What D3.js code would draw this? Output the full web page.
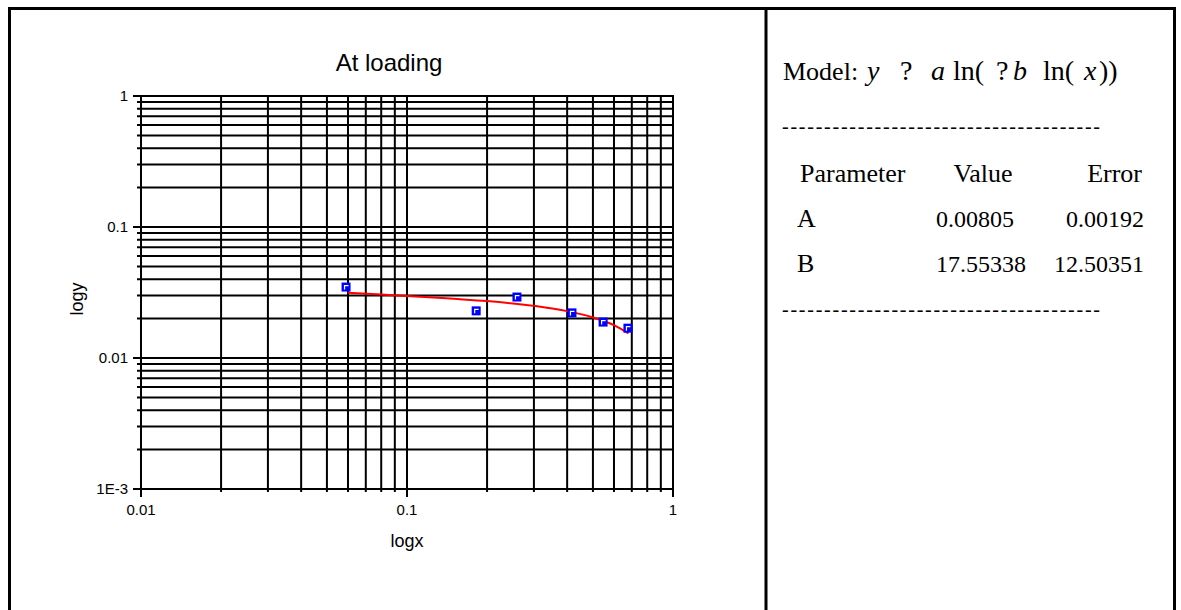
<!DOCTYPE html>
<html><head><meta charset="utf-8">
<script src="https://cdn.jsdelivr.net/npm/d3@7"></script>
<style>html,body{margin:0;padding:0;background:#fff;}svg{display:block;}</style>
</head><body>
<svg id="c" width="1181" height="610"></svg>
<script>
// ---- data ----
const xData = [0.059, 0.182, 0.259, 0.417, 0.546, 0.677];
const yData = [0.0348, 0.0229, 0.0292, 0.0221, 0.0188, 0.0169];
const fitX = [0.06, 0.08, 0.1, 0.15, 0.2, 0.3, 0.4, 0.5, 0.6, 0.68];
const fitY = [0.0315, 0.0305, 0.0298, 0.0283, 0.0272, 0.0250, 0.0228, 0.0204, 0.0178, 0.0154];
const xTickValues = [0.01, 0.1, 1];
const xTickLabels = ["0.01", "0.1", "1"];
const yTickValues = [0.001, 0.01, 0.1, 1];
const yTickLabels = ["1E-3", "0.01", "0.1", "1"];
const title = "At loading";
const xTitle = "logx";
const yTitle = "logy";
const tableHeader = ["Parameter", "Value", "Error"];
const paramNames = ["A", "B"];
const paramValues = ["0.00805", "17.55338"];
const paramErrors = ["0.00192", "12.50351"];

const svg = d3.select("#c");
const L = 141, R = 673, T = 96, B = 489;
const x = d3.scaleLog().domain([0.01, 1]).range([L, R]);
const y = d3.scaleLog().domain([0.001, 1]).range([B, T]);
const sans = "Liberation Sans, Arial, sans-serif";
const serif = "Liberation Serif, Times New Roman, serif";

// frame
svg.append("path").attr("d", "M9.5,620 V8.5 H1174.5 V620").attr("fill", "none").attr("stroke", "#000").attr("stroke-width", 3);
svg.append("line").attr("x1", 766).attr("x2", 766).attr("y1", 8).attr("y2", 620).attr("stroke", "#000").attr("stroke-width", 3);

const g = svg.append("g");
const isMajor = (arr, d) => arr.some(v => Math.abs(v - d) / d < 1e-6);
// grid
g.selectAll(".vg").data(x.ticks()).enter().append("line")
  .attr("x1", d => x(d)).attr("x2", d => x(d))
  .attr("y1", T).attr("y2", d => isMajor(xTickValues, d) ? B + 8 : B + 3)
  .attr("stroke", "#000").attr("stroke-width", 2);
g.selectAll(".hg").data(y.ticks()).enter().append("line")
  .attr("y1", d => y(d)).attr("y2", d => y(d))
  .attr("x1", d => isMajor(yTickValues, d) ? L - 8 : L - 4).attr("x2", R + 1)
  .attr("stroke", "#000").attr("stroke-width", 2);

// tick labels
g.selectAll(".xl").data(xTickValues).enter().append("text")
  .attr("x", d => x(d)).attr("y", 515).attr("text-anchor", "middle")
  .attr("font-family", sans).attr("font-size", 15)
  .text((d, i) => xTickLabels[i]);
g.selectAll(".yl").data(yTickValues).enter().append("text")
  .attr("x", 128).attr("y", d => y(d) + 5).attr("text-anchor", "end")
  .attr("font-family", sans).attr("font-size", 15)
  .text((d, i) => yTickLabels[i]);

// titles
svg.append("text").attr("x", 389).attr("y", 71).attr("text-anchor", "middle")
  .attr("font-family", sans).attr("font-size", 24).text(title);
svg.append("text").attr("x", 407).attr("y", 547).attr("text-anchor", "middle")
  .attr("font-family", sans).attr("font-size", 18).text(xTitle);
svg.append("text").attr("transform", "translate(83,299) rotate(-90)").attr("text-anchor", "middle")
  .attr("font-family", sans).attr("font-size", 18).text(yTitle);

// fit line
const line = d3.line().x(d => x(d[0])).y(d => y(d[1])).curve(d3.curveMonotoneX);
svg.append("path").datum(fitX.map((v, i) => [v, fitY[i]]))
  .attr("d", line).attr("fill", "none").attr("stroke", "#ff0000").attr("stroke-width", 2);

// markers
const pts = svg.selectAll(".pt").data(xData.map((v, i) => [v, yData[i]])).enter().append("g")
  .attr("transform", d => `translate(${x(d[0])},${y(d[1])})`);
pts.append("rect").attr("x", -4.5).attr("y", -4.5).attr("width", 9).attr("height", 9).attr("fill", "#0000ff");
pts.append("path").attr("d", "M-1.5,2.5 V-1.5 H2.5").attr("fill", "none").attr("stroke", "#fff").attr("stroke-width", 1.2);

// right panel
const pieces = [
  {t: "Model:", x: 783, it: false, s: 26},
  {t: "y", x: 867, it: true, s: 28},
  {t: "?", x: 900, it: false, s: 28},
  {t: "a", x: 931, it: true, s: 28},
  {t: "ln(", x: 953, it: false, s: 28},
  {t: "?", x: 996, it: false, s: 28},
  {t: "b", x: 1013, it: true, s: 28},
  {t: "ln(", x: 1043, it: false, s: 28},
  {t: "x", x: 1084, it: true, s: 28},
  {t: "))", x: 1099, it: false, s: 28}
];
pieces.forEach(p => {
  svg.append("text").attr("x", p.x).attr("y", 80).attr("font-family", serif)
    .attr("font-size", p.s).attr("font-style", p.it ? "italic" : "normal").text(p.t);
});
const dashes = "-".repeat(38);
[133, 316].forEach(yy => {
  svg.append("text").attr("x", 782).attr("y", yy).attr("font-family", serif).attr("font-size", 20)
    .attr("textLength", 318).attr("lengthAdjust", "spacing").text(dashes);
});

const fs = 26;
svg.append("text").attr("x", 800).attr("y", 182).attr("font-family", serif).attr("font-size", fs).text(tableHeader[0]);
svg.append("text").attr("x", 983).attr("y", 182).attr("text-anchor", "middle").attr("font-family", serif).attr("font-size", fs).text(tableHeader[1]);
svg.append("text").attr("x", 1142).attr("y", 182).attr("text-anchor", "end").attr("font-family", serif).attr("font-size", fs).text(tableHeader[2]);
paramNames.forEach((n, i) => {
  const yy = 227 + i * 45;
  svg.append("text").attr("x", 797).attr("y", yy).attr("font-family", serif).attr("font-size", fs).text(n);
  svg.append("text").attr("x", 936).attr("y", yy).attr("font-family", serif).attr("font-size", 24).text(paramValues[i]);
  svg.append("text").attr("x", 1144).attr("y", yy).attr("text-anchor", "end").attr("font-family", serif).attr("font-size", 24).text(paramErrors[i]);
});
</script>
</body></html>
